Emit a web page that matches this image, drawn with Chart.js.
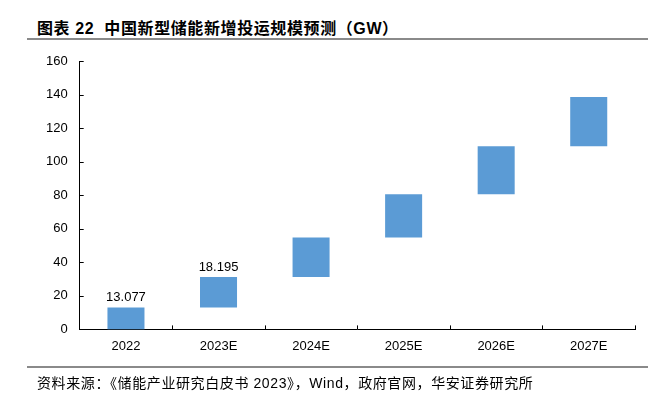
<!DOCTYPE html>
<html>
<head>
<meta charset="utf-8">
<script src="https://cdn.jsdelivr.net/npm/chart.js@4"></script>
<style>
    html, body { margin: 0; padding: 0; background: #fff; }
    body { width: 648px; height: 398px; position: relative; overflow: hidden;
           font-family: "Liberation Sans", Arial, "Noto Sans CJK SC", sans-serif; }
    #title { position: absolute; left: 37px; top: 15px; font-size: 16px; font-weight: bold; color: #000;
             white-space: nowrap; letter-spacing: 0.6px; }
    .rule { position: absolute; left: 27px; right: 0; height: 2px; background: #8a8a8a; }
    #source { position: absolute; left: 37px; top: 372px; font-size: 14px; color: #000;
              white-space: nowrap; letter-spacing: 0.6px; }
    #wrap { position: absolute; left: 0; top: 0; width: 648px; height: 398px; }
</style>
</head>
<body>
<div id="title">图表 22&nbsp; 中国新型储能新增投运规模预测（GW）</div>
<div class="rule" style="top: 38px;"></div>
<div id="wrap"><canvas id="chart"></canvas></div>
<div class="rule" style="top: 366px;"></div>
<div id="source">资料来源：《储能产业研究白皮书 2023》，Wind，政府官网，华安证券研究所</div>

<script>
// categories and floating bar ranges (GW)
const years = ['2022', '2023E', '2024E', '2025E', '2026E', '2027E'];
const barStart = [0, 13.077, 31.272, 54.8, 80.6, 109.2];
const barEnd = [13.077, 31.272, 54.8, 80.6, 109.2, 138.5];
const valueLabels = ['13.077', '18.195', '', '', '', ''];
const yTicks = [0, 20, 40, 60, 80, 100, 120, 140, 160];

const barColor = '#5B9BD5';
const numFont = '"Liberation Sans", Arial, sans-serif';

// labels above the bars
const valueLabelPlugin = {
    id: 'valueLabels',
    afterDatasetsDraw(chart) {
        const ctx = chart.ctx;
        const meta = chart.getDatasetMeta(0);
        ctx.save();
        ctx.font = '13px ' + numFont;
        ctx.fillStyle = '#000';
        ctx.textAlign = 'center';
        ctx.textBaseline = 'alphabetic';
        meta.data.forEach((bar, i) => {
            if (!valueLabels[i]) return;
            ctx.fillText(valueLabels[i], bar.x, bar.y - 6);
        });
        ctx.restore();
    }
};

// short ticks pointing into the plot
const innerTicksPlugin = {
    id: 'innerTicks',
    afterDraw(chart) {
        const ctx = chart.ctx;
        const area = chart.chartArea;
        const y = chart.scales.y;
        ctx.save();
        ctx.strokeStyle = '#000';
        ctx.lineWidth = 1;
        ctx.beginPath();
        yTicks.forEach(v => {
            const py = Math.round(y.getPixelForValue(v)) + 0.5;
            ctx.moveTo(area.left, py);
            ctx.lineTo(area.left + 4, py);
        });
        const step = (area.right - area.left) / years.length;
        for (let i = 1; i <= years.length; i++) {
            const px = Math.round(area.left + step * i) + 0.5;
            ctx.moveTo(px, area.bottom);
            ctx.lineTo(px, area.bottom - 4);
        }
        ctx.stroke();
        ctx.restore();
    }
};

new Chart(document.getElementById('chart'), {
    type: 'bar',
    data: {
        labels: years,
        datasets: [{
            data: years.map((_, i) => [barStart[i], barEnd[i]]),
            backgroundColor: barColor,
            borderWidth: 0,
            barPercentage: 0.4,
            categoryPercentage: 1.0
        }]
    },
    options: {
        responsive: true,
        maintainAspectRatio: false,
        animation: false,
        layout: { padding: { top: 61, right: 13, bottom: 35, left: 34 } },
        plugins: {
            legend: { display: false },
            tooltip: { enabled: false },
            title: { display: false }
        },
        scales: {
            x: {
                grid: { display: false, drawTicks: false },
                border: { display: true, color: '#000', width: 1 },
                ticks: { color: '#000', padding: 9, font: { family: numFont, size: 13 } }
            },
            y: {
                min: 0,
                max: 160,
                afterBuildTicks(axis) { axis.ticks = yTicks.map(v => ({ value: v })); },
                grid: { display: false, drawTicks: false },
                border: { display: true, color: '#000', width: 1 },
                ticks: { color: '#000', padding: 12, font: { family: numFont, size: 13 } }
            }
        }
    },
    plugins: [valueLabelPlugin, innerTicksPlugin]
});
</script>
</body>
</html>
